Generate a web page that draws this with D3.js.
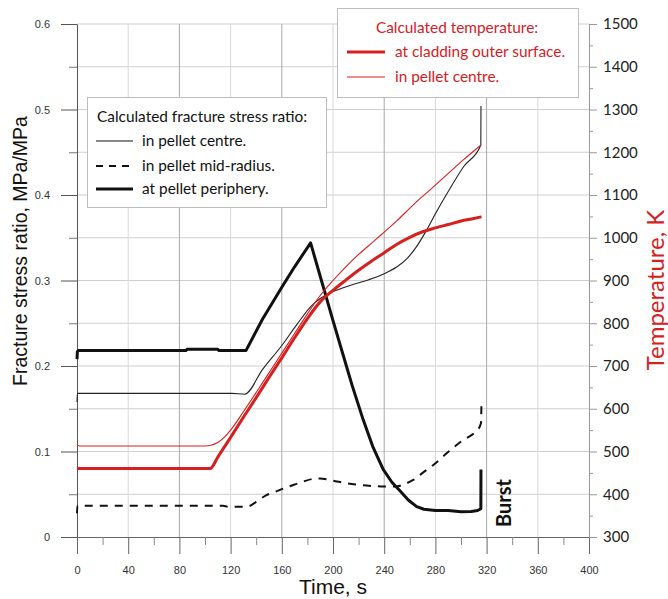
<!DOCTYPE html>
<html><head><meta charset="utf-8">
<script src="https://cdn.jsdelivr.net/npm/d3@7"></script>
<style>html,body{margin:0;padding:0;background:#fff;}svg{display:block;}</style>
</head><body>
<svg id="c" width="668" height="599"></svg>
<script>
// ---- data ----
const timeTicks = [0,40,80,120,160,200,240,280,320,360,400];
const stressTicks = [0,0.1,0.2,0.3,0.4,0.5,0.6];
const tempTicks = [300,400,500,600,700,800,900,1000,1100,1200,1300,1400,1500];

// fracture stress ratio at pellet periphery (thick black)
const periphT = [0,0.3,1,85,86,110,111,132,145,160,170,182.5,190,195,200,206.7,215,223.6,231,239.2,246,252.3,259,265.4,271,280,290,300,308,313,315.5,315.6];
const periphV = [0.208,0.217,0.218,0.218,0.2195,0.2195,0.218,0.218,0.255,0.292,0.316,0.344,0.305,0.279,0.253,0.219,0.177,0.137,0.106,0.079,0.064,0.054,0.043,0.0355,0.0325,0.031,0.031,0.0295,0.0298,0.031,0.033,0.079];
// in pellet centre (thin black)
const centreT = [0,0.3,121,131,145,160,172,183,190,200,215,228,240,250,258,265,272,280,290,302,315.5,315.6];
const centreV = [0.158,0.168,0.168,0.167,0.196,0.224,0.249,0.270,0.279,0.287,0.295,0.301,0.308,0.316,0.326,0.339,0.356,0.378,0.404,0.433,0.4585,0.504];
// in pellet mid-radius (dashed)
const midT = [0,0.3,114,118,132.6,140,148,153.4,160,169,177,184.6,190,195,203,210.7,220,231.5,240,249.7,256,262.7,270,278.4,288.8,301.8,309,312.3,315.6,316];
const midV = [0.0277,0.0366,0.0366,0.0354,0.0354,0.041,0.049,0.052,0.056,0.0608,0.065,0.068,0.0685,0.0675,0.065,0.0628,0.061,0.0596,0.059,0.0592,0.062,0.0667,0.075,0.0842,0.0979,0.1135,0.120,0.124,0.133,0.158];
// temperature at cladding outer surface (thick red), K
const cladT = [0,104,110,120,130,140,150,160,170,180,190,200,210,220,230,240,250,260,270,280,290,300,310,316];
const cladK = [460,460,487,533,580,626,673,719,766,811,850,877,901,924,945,965,985,1001,1014,1023,1031,1039,1045,1049];
// temperature in pellet centre (thin red), K
const pcT = [0,2,100,105,110,115,120,130,140,150,160,170,180,190,200,210,220,230,240,250,262.7,275.8,288.8,301.8,315.6];
const pcK = [516,513,513,515,521,533,550,593,638,684,730,776,822,865,900,932,961,987,1013,1040,1077,1112,1147,1182,1217];

// ---- drawing ----
const svg = d3.select('#c');
const x = d3.scaleLinear().domain([0,400]).range([77,589]);
const yL = d3.scaleLinear().domain([0,0.6]).range([537,24]);
const yR = d3.scaleLinear().domain([300,1500]).range([537,24]);
const RED = '#d6201f';

// grid
const g = svg.append('g');
g.selectAll('line.h').data(d3.range(1,13).map(i=>i*0.05)).enter().append('line')
  .attr('x1',77).attr('x2',589).attr('y1',d=>yL(d)).attr('y2',d=>yL(d))
  .attr('stroke','#cfcfcf').attr('stroke-width',1);
g.selectAll('line.v').data(timeTicks.slice(1,10)).enter().append('line')
  .attr('y1',24).attr('y2',537).attr('x1',d=>x(d)).attr('x2',d=>x(d))
  .attr('stroke',d=> d%80===0 ? '#a8a8a8' : '#d8d8d8').attr('stroke-width',1);

function styleAxis(sel, col, font, size, tcol){
  sel.select('.domain').attr('stroke',col);
  sel.selectAll('.tick line').attr('stroke',col);
  sel.selectAll('.tick text').attr('font-family',font).attr('font-size',size).attr('fill',tcol);
}
// left axis
const la = svg.append('g').attr('transform','translate(77,0)')
  .call(d3.axisLeft(yL).tickValues(stressTicks).tickSize(16).tickSizeOuter(0).tickPadding(11).tickFormat(d3.format('~g')));
styleAxis(la,'#555','Liberation Sans, Arial',11,'#333');
svg.append('g').attr('transform','translate(77,0)')
  .call(d3.axisLeft(yL).tickValues(stressTicks.slice(0,6).map(d=>d+0.05)).tickSize(8).tickFormat(''))
  .call(s=>{s.select('.domain').remove(); s.selectAll('line').attr('stroke','#777');});
// bottom axis
const ba = svg.append('g').attr('transform','translate(0,537)')
  .call(d3.axisBottom(x).tickValues(timeTicks).tickSize(17).tickSizeOuter(0).tickPadding(12));
styleAxis(ba,'#666','Liberation Sans, Arial',11,'#333');
ba.select('.domain').attr('d','M77,0.5H597');
svg.append('g').attr('transform','translate(0,537)')
  .call(d3.axisBottom(x).tickValues(timeTicks.slice(0,10).map(d=>d+20)).tickSize(8).tickFormat(''))
  .call(s=>{s.select('.domain').remove(); s.selectAll('line').attr('stroke','#888');});
// right axis
const ra = svg.append('g').attr('transform','translate(589,0)')
  .call(d3.axisRight(yR).tickValues(tempTicks).tickSize(8).tickSizeOuter(0).tickPadding(6).tickFormat(d3.format('d')));
styleAxis(ra,'#999','Lato',15,'#222');
svg.append('g').attr('transform','translate(589,0)')
  .call(d3.axisRight(yR).tickValues(tempTicks.slice(0,12).map(d=>d+50)).tickSize(4).tickFormat(''))
  .call(s=>{s.select('.domain').remove(); s.selectAll('line').attr('stroke','#999');});

// axis titles
svg.append('text').attr('transform','translate(27,251) rotate(-90)').attr('text-anchor','middle')
  .attr('font-family','Liberation Sans, Arial').attr('font-size',19.5).attr('fill','#111')
  .text('Fracture stress ratio, MPa/MPa');
svg.append('text').attr('x',333).attr('y',594).attr('text-anchor','middle')
  .attr('font-family','Liberation Sans, Arial').attr('font-size',21).attr('fill','#111')
  .text('Time, s');
svg.append('text').attr('transform','translate(664,290) rotate(-90)').attr('text-anchor','middle')
  .attr('font-family','Lato').attr('font-size',24).attr('fill',RED)
  .text('Temperature, K');

// curves
const smooth = d3.curveMonotoneX;
const lineL = (T,V,c) => d3.line().curve(c).x((d,i)=>x(T[i])).y((d,i)=>yL(V[i]))(T);
const lineR = (T,V,c) => d3.line().curve(c).x((d,i)=>x(T[i])).y((d,i)=>yR(V[i]))(T);
svg.append('path').attr('d',lineL(centreT,centreV,smooth)).attr('fill','none').attr('stroke','#222').attr('stroke-width',1.1);
svg.append('path').attr('d',lineL(midT,midV,smooth)).attr('fill','none').attr('stroke','#111').attr('stroke-width',2).attr('stroke-dasharray','8,7');
svg.append('path').attr('d',lineL(periphT,periphV,d3.curveLinear)).attr('fill','none').attr('stroke','#111').attr('stroke-width',3).attr('stroke-linejoin','round');
svg.append('path').attr('d',lineR(pcT,pcK,smooth)).attr('fill','none').attr('stroke',RED).attr('stroke-width',1.1);
svg.append('path').attr('d',lineR(cladT,cladK,smooth)).attr('fill','none').attr('stroke',RED).attr('stroke-width',3);

// Burst label
svg.append('text').attr('transform','translate(511,527) rotate(-90)')
  .attr('font-family','Lato').attr('font-weight','bold').attr('font-size',20).attr('fill','#111').text('Burst');

// legend 1
const l1 = svg.append('g');
l1.append('rect').attr('x',87.5).attr('y',97.5).attr('width',239).attr('height',110).attr('fill','#fff').attr('stroke','#bdbdbd');
l1.append('text').attr('x',97).attr('y',122).attr('font-family','Lato').attr('font-size',15.4).attr('fill','#111').text('Calculated fracture stress ratio:');
const l1items = [['in pellet centre.',146,1.1,null],['in pellet mid-radius.',171,2,'7,6'],['at pellet periphery.',194,3,null]];
l1items.forEach(([t,yb,w,dash])=>{
  const ln = l1.append('line').attr('x1',96).attr('x2',133).attr('y1',yb-5).attr('y2',yb-5).attr('stroke','#111').attr('stroke-width',w);
  if(dash) ln.attr('stroke-dasharray',dash);
  l1.append('text').attr('x',142).attr('y',yb).attr('font-family','Lato').attr('font-size',15.4).attr('fill','#111').text(t);
});
// legend 2
const l2 = svg.append('g');
l2.append('rect').attr('x',337.5).attr('y',8.5).attr('width',241).attr('height',89).attr('fill','#fff').attr('stroke','#bdbdbd');
l2.append('text').attr('x',457).attr('y',33).attr('text-anchor','middle').attr('font-family','Lato').attr('font-size',15.4).attr('fill',RED).text('Calculated temperature:');
[['at cladding outer surface.',57,3],['in pellet centre.',82,1.1]].forEach(([t,yb,w])=>{
  l2.append('line').attr('x1',347).attr('x2',385).attr('y1',yb-5).attr('y2',yb-5).attr('stroke',RED).attr('stroke-width',w);
  l2.append('text').attr('x',395).attr('y',yb).attr('font-family','Lato').attr('font-size',15.4).attr('fill',RED).text(t);
});
</script>
</body></html>
